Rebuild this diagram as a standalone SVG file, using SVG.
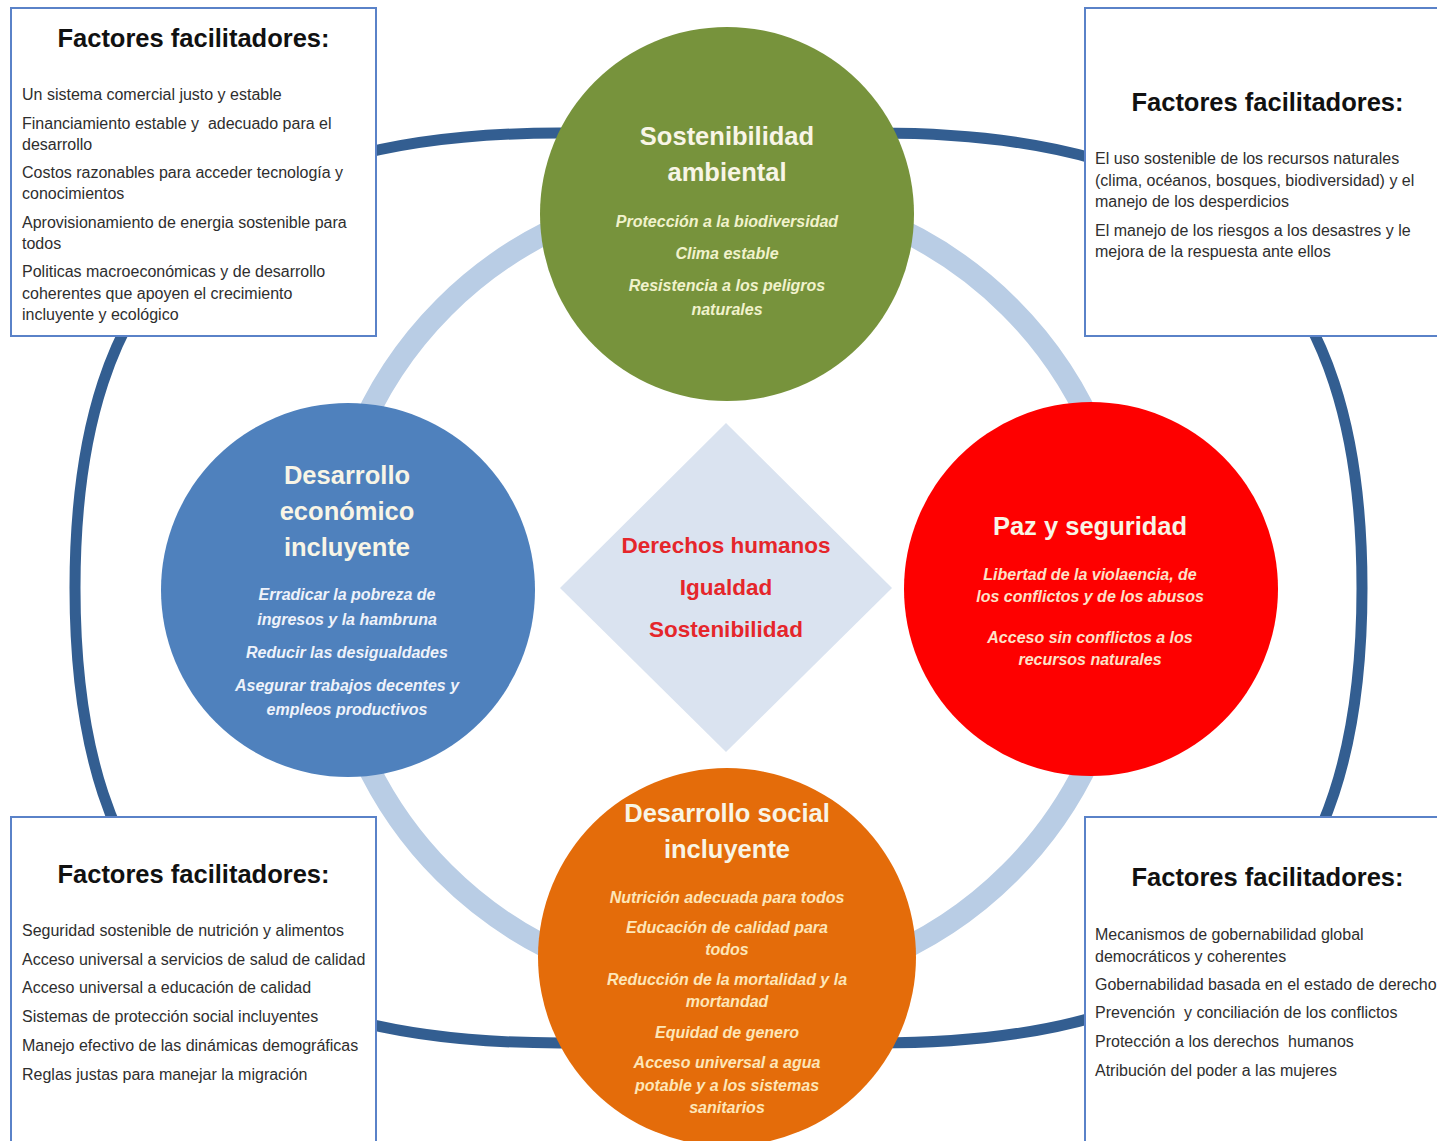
<svg xmlns="http://www.w3.org/2000/svg" width="1437" height="1141" viewBox="0 0 1437 1141">
  <style>
    .box { fill: #ffffff; stroke: #5a82c8; stroke-width: 2; }
    .bhead { font-family: "Liberation Sans", Arial, sans-serif; font-weight: bold; font-size: 25.5px; fill: #111111; text-anchor: middle; }
    .item { font-family: "Liberation Sans", Arial, sans-serif; font-size: 16px; fill: #2e2e2e; }
    .ctitle { font-family: "Liberation Sans", Arial, sans-serif; font-weight: bold; font-size: 25.5px; text-anchor: middle; fill: #f8f5e6; }
    .csub { font-family: "Liberation Sans", Arial, sans-serif; font-weight: bold; font-style: italic; font-size: 16px; text-anchor: middle; }
    .core { font-family: "Liberation Sans", Arial, sans-serif; font-weight: bold; font-size: 22.5px; text-anchor: middle; fill: #e5262b; }
  </style>

  <rect width="1437" height="1141" fill="#ffffff"/>

  <!-- connectors: outer frame and inner ring -->
  <g id="connectors" fill="none">
    <path id="outer-frame" stroke="#335e91" stroke-width="11"
      d="M 560,133 L 877,133 C 1217,133 1362,270 1362,588 C 1362,906 1217,1043 877,1043 L 560,1043 C 220,1043 75,906 75,588 C 75,270 220,133 560,133 Z"/>
    <circle id="inner-ring" cx="727" cy="590" r="400" stroke="#b9cde5" stroke-width="22"/>
  </g>

  <!-- enabling factors boxes -->
  <g id="box-top-left">
    <rect class="box" x="11" y="8" width="365" height="328"/>
    <text class="bhead" x="193.5" y="47">Factores facilitadores:</text>
    <text class="item" x="22" y="100">Un sistema comercial justo y estable</text>
    <text class="item" x="22" y="129" xml:space="preserve">Financiamiento estable y  adecuado para el</text>
    <text class="item" x="22" y="150">desarrollo</text>
    <text class="item" x="22" y="178">Costos razonables para acceder tecnología y</text>
    <text class="item" x="22" y="199">conocimientos</text>
    <text class="item" x="22" y="228">Aprovisionamiento de energia sostenible para</text>
    <text class="item" x="22" y="249">todos</text>
    <text class="item" x="22" y="277">Politicas macroeconómicas y de desarrollo</text>
    <text class="item" x="22" y="299">coherentes que apoyen el crecimiento</text>
    <text class="item" x="22" y="320">incluyente y ecológico</text>
  </g>

  <g id="box-top-right">
    <rect class="box" x="1085" y="8" width="362" height="328"/>
    <text class="bhead" x="1267.5" y="111">Factores facilitadores:</text>
    <text class="item" x="1095" y="164">El uso sostenible de los recursos naturales</text>
    <text class="item" x="1095" y="186">(clima, océanos, bosques, biodiversidad) y el</text>
    <text class="item" x="1095" y="207">manejo de los desperdicios</text>
    <text class="item" x="1095" y="236">El manejo de los riesgos a los desastres y le</text>
    <text class="item" x="1095" y="257">mejora de la respuesta ante ellos</text>
  </g>

  <g id="box-bottom-left">
    <rect class="box" x="11" y="817" width="365" height="340"/>
    <text class="bhead" x="193.5" y="883">Factores facilitadores:</text>
    <text class="item" x="22" y="936">Seguridad sostenible de nutrición y alimentos</text>
    <text class="item" x="22" y="965">Acceso universal a servicios de salud de calidad</text>
    <text class="item" x="22" y="993">Acceso universal a educación de calidad</text>
    <text class="item" x="22" y="1022">Sistemas de protección social incluyentes</text>
    <text class="item" x="22" y="1051">Manejo efectivo de las dinámicas demográficas</text>
    <text class="item" x="22" y="1080">Reglas justas para manejar la migración</text>
  </g>

  <g id="box-bottom-right">
    <rect class="box" x="1085" y="817" width="362" height="340"/>
    <text class="bhead" x="1267.5" y="886">Factores facilitadores:</text>
    <text class="item" x="1095" y="940">Mecanismos de gobernabilidad global</text>
    <text class="item" x="1095" y="962">democráticos y coherentes</text>
    <text class="item" x="1095" y="990">Gobernabilidad basada en el estado de derecho</text>
    <text class="item" x="1095" y="1018" xml:space="preserve">Prevención  y conciliación de los conflictos</text>
    <text class="item" x="1095" y="1047" xml:space="preserve">Protección a los derechos  humanos</text>
    <text class="item" x="1095" y="1076">Atribución del poder a las mujeres</text>
  </g>

  <!-- pillar circles -->
  <g id="environment">
    <circle cx="727" cy="214" r="187" fill="#77933c"/>
    <text class="ctitle" x="727" y="145">Sostenibilidad</text>
    <text class="ctitle" x="727" y="181">ambiental</text>
    <g class="csub" fill="#f1f2cc">
      <text x="727" y="227">Protección a la biodiversidad</text>
      <text x="727" y="259">Clima estable</text>
      <text x="727" y="291">Resistencia a los peligros</text>
      <text x="727" y="315">naturales</text>
    </g>
  </g>

  <g id="economic">
    <circle cx="348" cy="590" r="187" fill="#4f81bd"/>
    <text class="ctitle" x="347" y="484">Desarrollo</text>
    <text class="ctitle" x="347" y="520">económico</text>
    <text class="ctitle" x="347" y="556">incluyente</text>
    <g class="csub" fill="#eef2fa">
      <text x="347" y="600">Erradicar la pobreza de</text>
      <text x="347" y="625">ingresos y la hambruna</text>
      <text x="347" y="658">Reducir las desigualdades</text>
      <text x="347" y="691">Asegurar trabajos decentes y</text>
      <text x="347" y="715">empleos productivos</text>
    </g>
  </g>

  <g id="peace">
    <circle cx="1091" cy="589" r="187" fill="#fe0000"/>
    <text class="ctitle" x="1090" y="535" fill="#fde8d6">Paz y seguridad</text>
    <g class="csub" fill="#fde2c8">
      <text x="1090" y="580">Libertad de la violaencia, de</text>
      <text x="1090" y="602">los conflictos y de los abusos</text>
      <text x="1090" y="643">Acceso sin conflictos a los</text>
      <text x="1090" y="665">recursos naturales</text>
    </g>
  </g>

  <g id="social">
    <circle cx="727" cy="957" r="189" fill="#e46c0a"/>
    <text class="ctitle" x="727" y="822" fill="#fdebd0">Desarrollo social</text>
    <text class="ctitle" x="727" y="858" fill="#fdebd0">incluyente</text>
    <g class="csub" fill="#fde6b8">
      <text x="727" y="903">Nutrición adecuada para todos</text>
      <text x="727" y="933">Educación de calidad para</text>
      <text x="727" y="955">todos</text>
      <text x="727" y="985">Reducción de la mortalidad y la</text>
      <text x="727" y="1007">mortandad</text>
      <text x="727" y="1038">Equidad de genero</text>
      <text x="727" y="1068">Acceso universal a agua</text>
      <text x="727" y="1091">potable y a los sistemas</text>
      <text x="727" y="1113">sanitarios</text>
    </g>
  </g>

  <!-- core principles -->
  <g id="core">
    <polygon points="726,423 892,588 726,752 560,588" fill="#dae3f0"/>
    <text class="core" x="726" y="553">Derechos humanos</text>
    <text class="core" x="726" y="595">Igualdad</text>
    <text class="core" x="726" y="637">Sostenibilidad</text>
  </g>
</svg>
